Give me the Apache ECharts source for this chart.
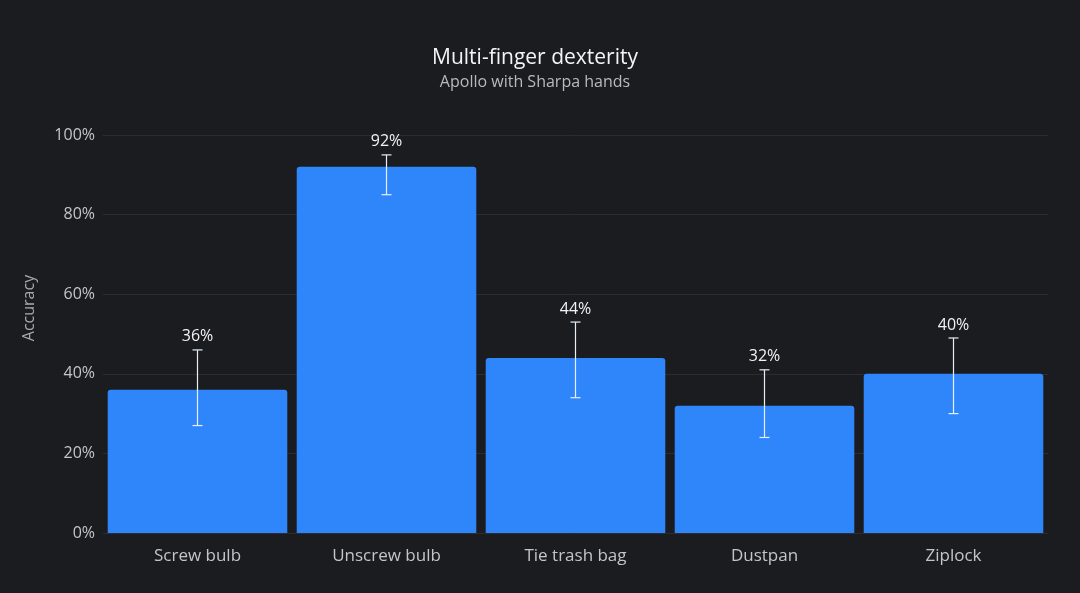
<!DOCTYPE html>
<html>
<head>
<meta charset="utf-8">
<script src="https://cdn.jsdelivr.net/npm/echarts@6/dist/echarts.min.js"></script>
<style>
  html, body { margin: 0; padding: 0; background: #1b1c20; }
  #chart { width: 1080px; height: 593px; }
</style>
</head>
<body>
<div id="chart"></div>
<script>
(function () {
  'use strict';

  // ── Data ──
  var categories = ['Screw bulb', 'Unscrew bulb', 'Tie trash bag', 'Dustpan', 'Ziplock'];
  var accuracy = [36, 92, 44, 32, 40];
  var errLow = [27, 85, 34, 24, 30];
  var errHigh = [46, 95, 53, 41, 49];

  var FONT = '"Open Sans", Roboto, sans-serif';
  var BAR_COLOR = '#2f86fb';
  var TEXT = '#c4c5c9';

  var errData = categories.map(function (c, i) { return [i, errLow[i], errHigh[i], accuracy[i]]; });

  function renderError(params, api) {
    var x = api.value(0);
    var lo = api.coord([x, api.value(1)]);
    var hi = api.coord([x, api.value(2)]);
    var cap = 5;
    var style = { stroke: '#e6eef8', lineWidth: 1.2 };
    return {
      type: 'group',
      children: [
        { type: 'line', shape: { x1: hi[0], y1: hi[1], x2: lo[0], y2: lo[1] }, style: style },
        { type: 'line', shape: { x1: hi[0] - cap, y1: hi[1], x2: hi[0] + cap, y2: hi[1] }, style: style },
        { type: 'line', shape: { x1: lo[0] - cap, y1: lo[1], x2: lo[0] + cap, y2: lo[1] }, style: style },
        {
          type: 'text',
          x: hi[0], y: hi[1] - 13,
          style: {
            text: api.value(3) + '%',
            fill: '#f2f2f2', font: '16px ' + FONT,
            align: 'center', verticalAlign: 'middle'
          }
        }
      ]
    };
  }

  var chart = echarts.init(document.getElementById('chart'), null, { renderer: 'canvas' });
  chart.setOption({
    backgroundColor: '#1b1c20',
    animation: false,
    title: {
      text: 'Multi-finger dexterity',
      subtext: 'Apollo with Sharpa hands',
      left: 530, top: 43, textAlign: 'center',
      itemGap: 5,
      textStyle: { color: '#f4f4f4', fontSize: 21, fontWeight: 500, fontFamily: FONT },
      subtextStyle: { color: '#b9babd', fontSize: 16, fontFamily: FONT }
    },
    grid: { left: 103, right: 32, top: 135, bottom: 60 },
    xAxis: {
      type: 'category',
      data: categories,
      axisLine: { show: false },
      axisTick: { show: false },
      axisLabel: { color: TEXT, fontSize: 17, fontFamily: FONT, margin: 15 }
    },
    yAxis: {
      type: 'value',
      min: 0, max: 100, interval: 20,
      name: 'Accuracy',
      nameLocation: 'middle',
      nameGap: 66,
      nameTextStyle: { color: '#a9aaae', fontSize: 16, fontFamily: FONT, padding: [0, 0, 0, 52] },
      axisLine: { show: false },
      axisTick: { show: false },
      axisLabel: { color: TEXT, fontSize: 16, fontFamily: FONT, formatter: '{value}%', margin: 8 },
      splitLine: { lineStyle: { color: '#2c2d32', width: 1 } }
    },
    series: [
      {
        type: 'bar',
        data: accuracy,
        barCategoryGap: '5%',
        itemStyle: { color: BAR_COLOR, borderRadius: [3, 3, 0, 0] }
      },
      {
        type: 'custom',
        renderItem: renderError,
        data: errData,
        encode: { x: 0, y: [1, 2] },
        z: 10
      }
    ]
  });
})();
</script>
</body>
</html>
